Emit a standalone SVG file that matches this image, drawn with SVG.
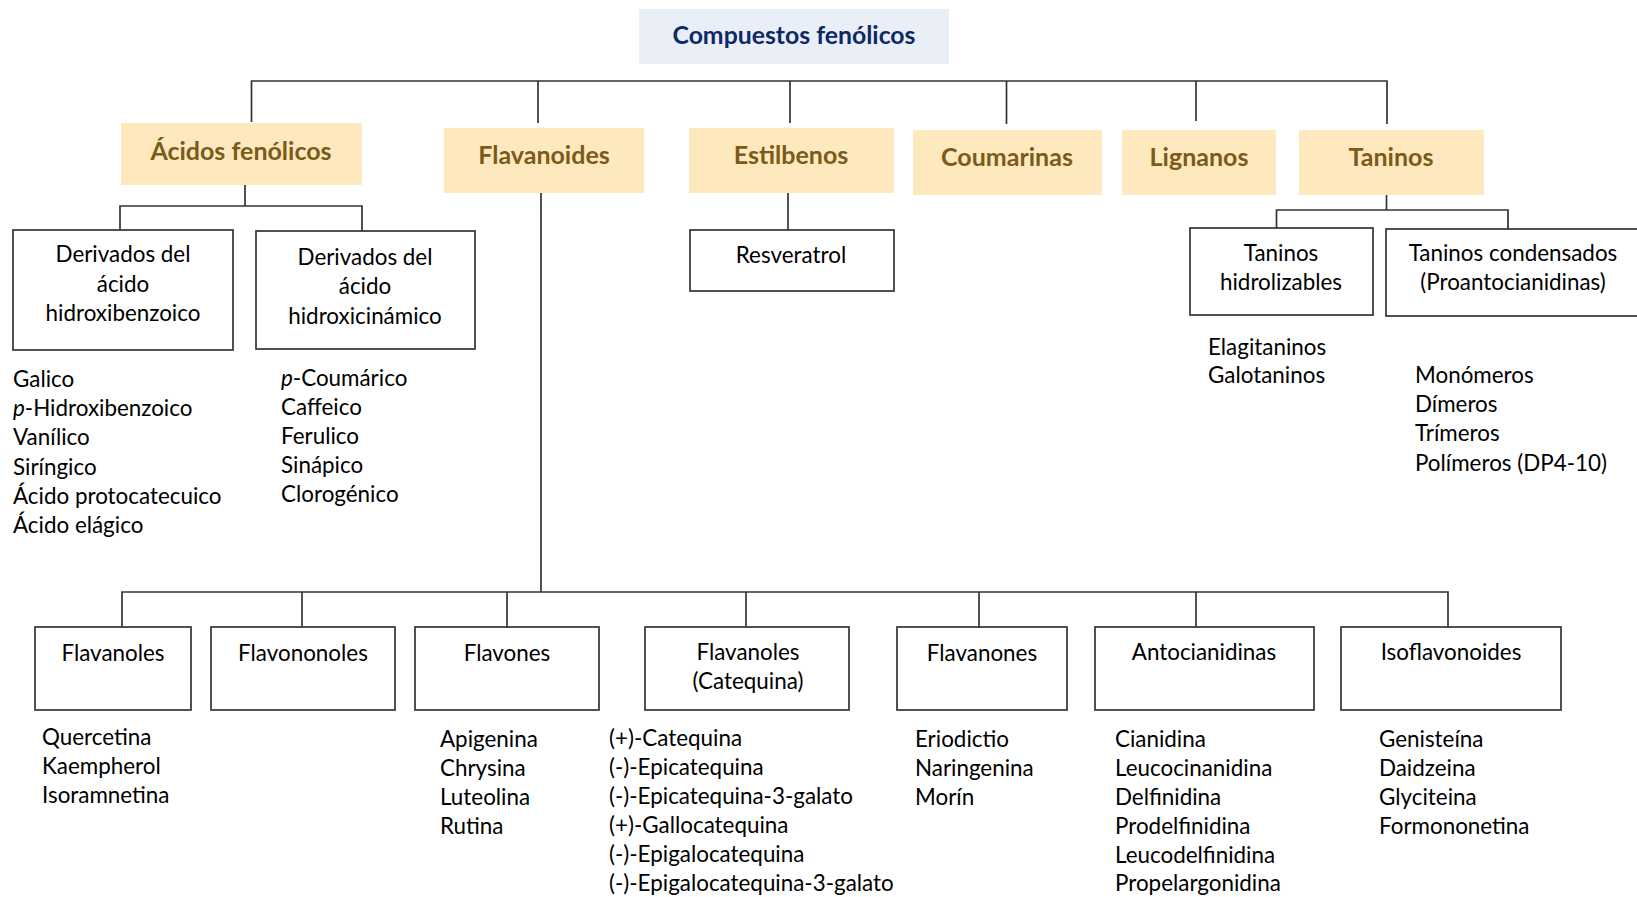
<svg xmlns="http://www.w3.org/2000/svg" width="1637" height="897" viewBox="0 0 1637 897">
<style>
text{font-family:Lato,"Liberation Sans",sans-serif;fill:#000;font-size:22.4px}
.c{text-anchor:middle}
.title{font-weight:bold;font-size:24.8px;fill:#0d2a66}
.cat{font-weight:bold;font-size:25px;fill:#7a5b1a}
.catbox{fill:#fee8bd;stroke:none}
.box{fill:#fff;stroke:#333;stroke-width:1.7}
.ln{fill:none;stroke:#333;stroke-width:1.7}
</style>
<rect width="1637" height="897" fill="#fff"/>
<g id="connectors">
<path class="ln" d="M251.5 122 V81 H1387 V124"/>
<path class="ln" d="M538 81 V123"/>
<path class="ln" d="M790 81 V123"/>
<path class="ln" d="M1006.5 81 V124"/>
<path class="ln" d="M1196 81 V121"/>
<path class="ln" d="M245 185 V206"/>
<path class="ln" d="M120 230 V206 H362 V231"/>
<path class="ln" d="M541 193 V592"/>
<path class="ln" d="M122 627 V592 H1448 V627"/>
<path class="ln" d="M302 592 V627"/>
<path class="ln" d="M507 592 V627"/>
<path class="ln" d="M746 592 V627"/>
<path class="ln" d="M979 592 V627"/>
<path class="ln" d="M1196 592 V632"/>
<path class="ln" d="M788 193 V230"/>
<path class="ln" d="M1386.5 195 V210"/>
<path class="ln" d="M1276.5 228 V210 H1508 V229"/>
</g>
<g id="title">
<rect x="639" y="9" width="310" height="55" fill="#e9eef7"/>
<text class="title c" x="794" y="44">Compuestos fenólicos</text>
</g>
<g id="acidos">
<rect class="catbox" x="121" y="123" width="241" height="62"/>
<text class="cat c" x="241" y="159.5">Ácidos fenólicos</text>
</g>
<g id="flavanoides">
<rect class="catbox" x="444" y="128" width="200" height="65"/>
<text class="cat c" x="544" y="163.5">Flavanoides</text>
</g>
<g id="estilbenos">
<rect class="catbox" x="689" y="128" width="205" height="65"/>
<text class="cat c" x="791" y="163.5">Estilbenos</text>
</g>
<g id="coumarinas">
<rect class="catbox" x="913" y="130" width="189" height="65"/>
<text class="cat c" x="1007" y="165.5">Coumarinas</text>
</g>
<g id="lignanos">
<rect class="catbox" x="1122" y="130" width="154" height="65"/>
<text class="cat c" x="1199" y="165.5">Lignanos</text>
</g>
<g id="taninos">
<rect class="catbox" x="1299" y="130" width="185" height="65"/>
<text class="cat c" x="1391" y="165.5">Taninos</text>
</g>
<g id="deriv-benzoico">
<rect class="box" x="13" y="230" width="220" height="120"/>
<text class="c" x="123" y="262">Derivados del</text>
<text class="c" x="123" y="292">ácido</text>
<text class="c" x="123" y="321">hidroxibenzoico</text>
</g>
<g id="deriv-cinamico">
<rect class="box" x="256" y="231" width="219" height="118"/>
<text class="c" x="365" y="264.5">Derivados del</text>
<text class="c" x="365" y="294">ácido</text>
<text class="c" x="365" y="323.5">hidroxicinámico</text>
</g>
<g id="resveratrol">
<rect class="box" x="690" y="230" width="204" height="61"/>
<text class="c" x="791" y="263">Resveratrol</text>
</g>
<g id="tan-hidro">
<rect class="box" x="1190" y="228" width="183" height="87"/>
<text class="c" x="1281" y="261">Taninos</text>
<text class="c" x="1281" y="289.5">hidrolizables</text>
</g>
<g id="tan-cond">
<rect class="box" x="1386" y="229" width="260" height="87"/>
<text class="c" x="1513" y="261">Taninos condensados</text>
<text class="c" x="1513" y="290">(Proantocianidinas)</text>
</g>
<g id="list-benzoico">
<text x="13" y="387">Galico</text>
<text x="13" y="416"><tspan font-style="italic">p</tspan>-Hidroxibenzoico</text>
<text x="13" y="445">Vanílico</text>
<text x="13" y="474.5">Siríngico</text>
<text x="13" y="503.5">Ácido protocatecuico</text>
<text x="13" y="532.5">Ácido elágico</text>
</g>
<g id="list-cinamico">
<text x="281" y="385.5"><tspan font-style="italic">p</tspan>-Coumárico</text>
<text x="281" y="414.5">Caffeico</text>
<text x="281" y="443.5">Ferulico</text>
<text x="281" y="472.5">Sinápico</text>
<text x="281" y="501.5">Clorogénico</text>
</g>
<g id="list-hidro">
<text x="1208" y="355">Elagitaninos</text>
<text x="1208" y="383">Galotaninos</text>
</g>
<g id="list-cond">
<text x="1415" y="383">Monómeros</text>
<text x="1415" y="412">Dímeros</text>
<text x="1415" y="441">Trímeros</text>
<text x="1415" y="470.5">Polímeros (DP4-10)</text>
</g>
<g id="flavanoles">
<rect class="box" x="35" y="627" width="156" height="83"/>
<text class="c" x="113" y="660.5">Flavanoles</text>
</g>
<g id="flavononoles">
<rect class="box" x="211" y="627" width="184" height="83"/>
<text class="c" x="303" y="660.5">Flavononoles</text>
</g>
<g id="flavones">
<rect class="box" x="415" y="627" width="184" height="83"/>
<text class="c" x="507" y="660.5">Flavones</text>
</g>
<g id="flavanoles-cat">
<rect class="box" x="645" y="627" width="204" height="83"/>
<text class="c" x="748" y="660">Flavanoles</text>
<text class="c" x="748" y="689">(Catequina)</text>
</g>
<g id="flavanones">
<rect class="box" x="897" y="627" width="170" height="83"/>
<text class="c" x="982" y="660.5">Flavanones</text>
</g>
<g id="antocianidinas">
<rect class="box" x="1095" y="627" width="219" height="83"/>
<text class="c" x="1204" y="659.5">Antocianidinas</text>
</g>
<g id="isoflavonoides">
<rect class="box" x="1341" y="627" width="220" height="83"/>
<text class="c" x="1451" y="659.5">Isoflavonoides</text>
</g>
<g id="list-flavanoles">
<text x="42" y="745">Quercetina</text>
<text x="42" y="774">Kaempherol</text>
<text x="42" y="803">Isoramnetina</text>
</g>
<g id="list-flavones">
<text x="440" y="746.5">Apigenina</text>
<text x="440" y="775.5">Chrysina</text>
<text x="440" y="804.5">Luteolina</text>
<text x="440" y="834">Rutina</text>
</g>
<g id="list-catequina">
<text x="609" y="746">(+)-Catequina</text>
<text x="609" y="775">(-)-Epicatequina</text>
<text x="609" y="804">(-)-Epicatequina-3-galato</text>
<text x="609" y="833">(+)-Gallocatequina</text>
<text x="609" y="862">(-)-Epigalocatequina</text>
<text x="609" y="891">(-)-Epigalocatequina-3-galato</text>
</g>
<g id="list-flavanones">
<text x="915" y="746.5">Eriodictio</text>
<text x="915" y="775.5">Naringenina</text>
<text x="915" y="804.5">Morín</text>
</g>
<g id="list-antocianidinas">
<text x="1115" y="746.5">Cianidina</text>
<text x="1115" y="775.5">Leucocinanidina</text>
<text x="1115" y="804.5">Delfinidina</text>
<text x="1115" y="833.5">Prodelfinidina</text>
<text x="1115" y="862.5">Leucodelfinidina</text>
<text x="1115" y="891">Propelargonidina</text>
</g>
<g id="list-isoflavonoides">
<text x="1379" y="746.5">Genisteína</text>
<text x="1379" y="775.5">Daidzeina</text>
<text x="1379" y="804.5">Glyciteina</text>
<text x="1379" y="833.5">Formononetina</text>
</g>
</svg>
